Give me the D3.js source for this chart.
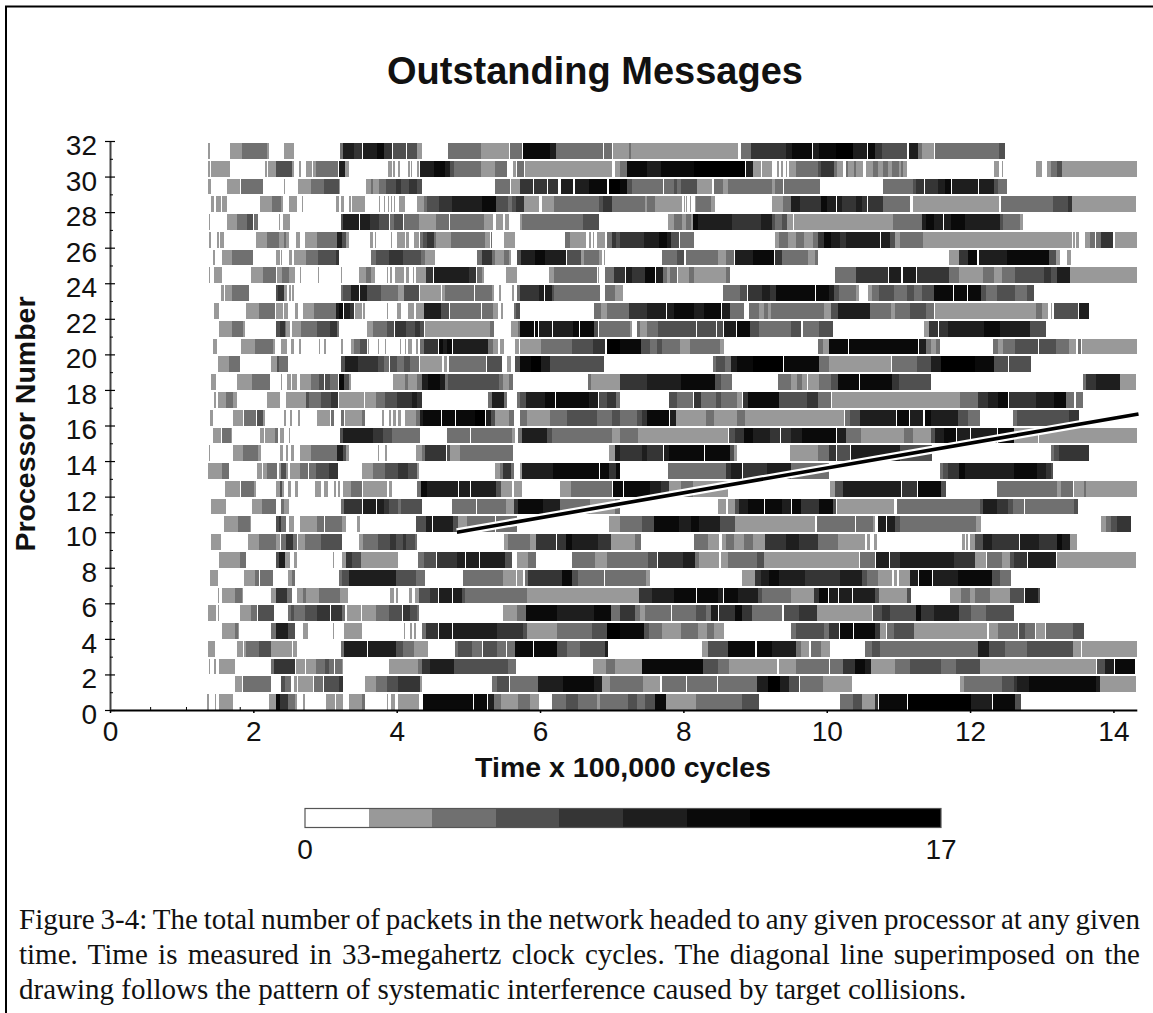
<!DOCTYPE html>
<html><head><meta charset="utf-8">
<script src="https://cdn.jsdelivr.net/npm/d3@7"></script>
<style>
html,body{margin:0;padding:0;background:#fff;overflow:hidden}
svg{display:block}
text{fill:#111}
</style></head><body>
<svg id="chart" width="1153" height="1013"></svg>
<script>
const titleText = "Outstanding Messages";
const xTitle = "Time x 100,000 cycles";
const yTitle = "Processor Number";
const xTicks = [0,2,4,6,8,10,12,14];
const xMinorTicks = [0.56,1.06,1.81];
const yTicks = d3.range(0,33,2);
const yMinorTicks = d3.range(1,33,2);
const samplesPerUnit = 212.2;   // time samples per 100,000 cycles
const lastSample = 3040;
const levelColors = ["#ffffff","#999999","#707070","#505050","#353535","#1e1e1e","#0a0a0a","#000000"];
const legendBins = [0,1,2,3,4,5,6,7,7,7];
const legendRange = [0,17];
const diagonalTime = [4.84,14.35];
const diagonalProc = [10.0,16.65];
const captionLines = [
 "Figure 3-4: The total number of packets in the network headed to any given processor at any given",
 "time. Time is measured in 33-megahertz clock cycles. The diagonal line superimposed on the",
 "drawing follows the pattern of systematic interference caused by target collisions."
];
// Each row: start sample, level, start sample, level, ... (level 0 = none outstanding). First row is processor 31.
const outstanding = [
[291,1,297,0,356,1,392,2,466,1,471,0,516,1,546,0,680,2,689,5,722,4,747,0,750,5,790,6,812,4,835,0,838,3,877,0,880,3,909,1,923,0,1002,2,1099,1,1182,0,1185,2,1220,0,1223,6,1304,5,1320,2,1460,0,1463,2,1487,0,1490,1,1537,2,1543,1,1859,0,1868,2,1898,4,2000,5,2020,6,2078,0,2081,5,2100,6,2150,7,2200,5,2240,0,2244,6,2265,4,2285,3,2360,0,2365,5,2393,2,2405,1,2440,0,2442,2,2633,3,2651,0],
[291,1,297,0,300,1,356,0,460,1,466,0,469,1,492,3,538,1,546,0,560,1,566,0,581,1,597,0,600,1,610,2,676,0,679,5,697,1,708,0,822,1,835,0,838,1,844,0,853,1,859,0,883,1,889,0,892,1,895,0,910,1,915,0,919,5,960,6,992,5,1006,3,1019,2,1099,1,1140,2,1176,0,1193,1,1202,0,1205,2,1225,0,1228,1,1487,0,1496,1,1510,2,1530,6,1590,5,1630,6,1728,7,1880,0,1883,5,1903,1,1927,0,1930,1,1960,0,1974,1,1980,0,1988,1,1994,0,2000,1,2004,0,2009,1,2030,2,2097,3,2106,4,2143,2,2151,1,2170,0,2179,2,2185,1,2203,2,2209,1,2230,0,2238,1,2258,2,2275,1,2288,2,2303,1,2315,2,2335,1,2343,2,2349,1,2359,0,2616,1,2631,0,2640,1,2643,0,2742,1,2755,0,2757,1,2760,0,2773,1,2785,2,2803,3,2818,0,2820,1,3040,0],
[291,1,300,0,347,1,386,0,389,2,453,0,514,1,517,0,557,1,596,2,634,3,677,1,682,0,759,1,772,2,780,1,795,2,818,3,847,4,862,3,884,4,910,3,923,0,1140,2,1183,0,1186,1,1213,4,1253,0,1256,4,1294,0,1297,4,1326,0,1334,5,1372,0,1376,5,1417,6,1472,0,1478,7,1510,6,1530,3,1546,2,1637,0,1640,2,1670,3,1680,2,1690,3,1738,1,1782,0,1788,2,1815,1,1830,2,1960,1,1969,2,1992,0,1995,2,2102,0,2288,2,2378,3,2386,4,2409,0,2412,4,2450,5,2473,6,2489,0,2492,5,2545,0,2547,5,2569,0,2572,5,2617,3,2630,2,2657,0],
[300,1,309,0,315,1,330,0,333,1,347,0,445,1,480,2,507,1,512,0,531,1,554,0,569,1,572,0,668,1,677,0,683,1,692,0,708,1,714,0,717,1,756,0,797,1,800,0,812,1,815,0,824,1,827,0,833,1,836,0,842,1,845,0,857,1,861,0,863,1,874,0,909,1,930,2,939,3,974,4,1013,5,1102,6,1142,3,1177,2,1190,3,1202,4,1227,1,1270,0,1279,1,1314,2,1449,3,1460,4,1487,2,1513,2,1585,1,1590,2,1613,1,1693,0,1698,1,1702,0,1706,1,1709,0,1717,1,1720,0,1732,1,1736,2,1780,1,1791,0,1960,1,1992,2,2016,5,2044,4,2106,6,2122,5,2148,0,2152,5,2167,4,2208,5,2226,4,2240,0,2244,4,2290,2,2370,0,2377,1,2631,0,2637,2,2791,3,2835,4,2847,1,3037,0],
[292,1,296,0,347,1,377,2,406,3,424,0,427,2,439,0,499,1,502,0,513,1,534,0,683,3,690,5,738,0,741,5,769,4,797,3,827,0,830,2,842,3,868,0,871,2,914,1,965,2,1003,0,1006,2,1108,1,1134,0,1143,1,1165,0,1168,1,1182,0,1214,1,1220,2,1400,3,1448,0,1652,1,1670,2,1693,1,1705,2,1720,1,1727,6,1740,5,1843,4,1928,5,1960,3,1970,2,1990,3,2005,1,2021,0,2024,1,2318,2,2405,5,2415,6,2440,5,2467,0,2469,5,2490,6,2532,5,2635,3,2645,2,2695,1,2702,0],
[292,1,298,0,316,1,322,0,325,1,338,0,433,1,466,2,499,1,514,2,522,1,531,0,551,1,563,0,578,1,614,2,672,5,687,3,698,1,708,0,770,1,779,0,784,1,788,0,833,1,836,0,850,1,872,0,877,1,886,0,901,1,914,0,919,2,927,3,938,4,959,2,966,1,1010,2,1110,1,1125,0,1127,2,1132,0,1167,1,1200,0,1348,2,1362,1,1409,0,1418,1,1424,0,1430,1,1434,0,1442,1,1465,0,1472,2,1487,4,1497,3,1510,4,1580,5,1625,6,1650,5,1662,3,1685,0,1688,2,1728,0,1969,1,1980,2,2006,1,2030,2,2055,1,2082,2,2095,4,2115,6,2135,5,2162,4,2180,5,2279,0,2282,5,2310,3,2325,1,2338,2,2406,1,2848,0,2852,1,2856,0,2860,1,2868,0,2886,1,2900,2,2915,0,2918,2,2933,4,2970,0,2974,1,3040,0],
[304,1,312,0,333,1,362,2,424,0,492,1,504,0,507,1,510,0,531,1,540,0,546,1,581,2,617,3,668,4,677,0,773,2,788,3,827,4,867,3,922,2,933,1,963,0,1087,2,1102,4,1132,2,1139,1,1167,2,1182,1,1188,0,1206,3,1217,5,1257,6,1287,5,1350,0,1353,3,1394,1,1402,2,1447,1,1456,0,1463,1,1466,0,1634,2,1680,3,1700,0,1705,2,1800,1,1824,2,1847,0,1850,5,1903,6,1966,0,1970,4,1990,2,2067,1,2088,2,2096,0,2483,1,2514,4,2540,6,2568,0,2572,5,2655,6,2780,3,2800,1,2812,0,2832,1,2844,0],
[292,1,296,0,309,1,333,0,418,1,454,2,492,0,495,1,510,2,531,1,548,0,563,1,566,0,617,1,620,0,683,1,686,0,738,1,759,2,774,1,785,0,819,1,822,0,828,1,834,0,844,1,871,0,877,1,886,0,898,1,901,0,907,1,937,4,957,0,960,5,1062,4,1084,0,1088,2,1102,1,1108,0,1173,1,1205,0,1300,1,1315,2,1442,0,1445,1,1448,0,1466,2,1492,4,1525,0,1528,5,1545,4,1585,6,1613,0,1617,5,1638,2,1650,1,1658,2,1678,0,1681,1,1715,2,1729,1,1825,2,1837,0,2146,2,2210,4,2303,0,2307,5,2343,0,2347,5,2385,0,2389,4,2485,2,2513,1,2585,2,2617,1,2640,2,2680,3,2765,4,2785,3,2805,5,2842,1,3040,0],
[330,1,338,0,341,1,362,2,411,0,490,3,498,4,514,1,524,0,531,1,536,0,540,1,546,0,683,2,690,3,714,5,738,0,741,5,762,3,802,2,854,1,870,3,915,0,918,1,980,0,983,1,992,2,1079,0,1082,2,1132,1,1138,0,1152,1,1159,0,1189,1,1195,0,1206,2,1213,4,1270,5,1286,0,1289,5,1308,3,1314,2,1452,0,1466,2,1495,1,1519,0,1815,2,1865,3,1885,0,1889,4,1930,5,1955,4,1973,6,2088,0,2091,6,2130,5,2143,3,2158,2,2208,1,2217,0,2244,1,2255,2,2278,3,2320,2,2360,3,2380,2,2403,3,2440,6,2495,0,2498,6,2537,0,2540,6,2580,3,2595,2,2625,3,2680,2,2715,3,2737,0],
[309,1,324,0,404,1,442,2,489,0,492,1,513,0,516,1,528,0,548,1,557,0,572,1,605,2,669,5,677,6,690,0,693,5,712,4,722,0,725,1,746,0,750,1,756,0,819,1,822,0,850,1,862,0,883,1,901,0,906,1,930,5,980,3,1003,0,1006,2,1099,0,1102,2,1134,1,1149,0,1158,1,1164,0,1197,2,1203,3,1214,0,1433,2,1454,1,1472,2,1510,2,1537,4,1590,5,1645,0,1649,5,1670,6,1728,5,1760,6,1810,0,1813,5,1837,2,1877,0,1892,2,1920,1,1935,2,1947,1,1957,2,2115,1,2135,3,2155,5,2250,2,2312,1,2325,2,2370,3,2415,2,2439,0,2442,1,2741,2,2760,1,2778,0,2785,1,2788,0,2795,3,2865,0,2868,5,2898,0],
[324,1,362,2,395,1,401,0,491,3,503,4,517,2,522,1,534,0,540,1,566,2,614,3,652,4,672,2,678,0,762,1,779,2,821,3,841,0,844,4,877,3,902,4,917,3,930,0,933,1,1125,2,1138,0,1188,1,1208,2,1215,6,1254,0,1257,6,1267,0,1270,5,1309,0,1312,5,1372,6,1389,0,1392,6,1433,3,1445,0,1447,2,1540,1,1546,0,1560,2,1570,1,1590,2,1622,3,1735,0,1738,3,1795,0,1798,3,1815,0,1818,5,1853,0,1857,6,1895,3,1920,2,2015,3,2047,0,2051,2,2100,3,2140,0,2410,1,2425,4,2450,0,2455,4,2480,5,2588,6,2635,5,2725,3,2770,0],
[306,1,318,0,389,1,429,2,483,1,489,0,507,1,525,0,537,1,546,0,561,1,566,0,618,1,621,0,633,1,639,0,683,1,689,0,714,1,723,2,741,3,762,0,765,1,768,0,794,1,797,0,813,1,818,0,858,1,861,0,872,1,875,0,883,1,895,0,907,1,912,0,917,2,930,4,972,0,974,6,987,5,997,6,1012,0,1015,5,1118,2,1134,1,1149,0,1155,1,1167,0,1199,1,1211,0,1214,1,1275,2,1367,3,1429,4,1465,0,1472,7,1510,6,1572,3,1598,2,1620,3,1635,2,1688,1,1718,2,1806,1,1818,0,2096,2,2110,1,2128,6,2185,0,2188,6,2393,0,2395,5,2415,2,2430,1,2445,2,2457,0,2614,2,2630,1,2645,2,2680,3,2747,0,2750,3,2800,2,2840,1,2859,0,2865,2,2874,0,2877,1,3040,0],
[321,1,353,2,384,0,477,1,495,3,501,2,528,0,683,3,695,5,734,4,792,3,812,2,827,0,830,3,850,2,870,3,887,2,914,0,918,1,983,0,989,1,998,0,1004,2,1112,0,1117,3,1162,0,1174,1,1188,0,1200,3,1214,6,1247,7,1277,5,1302,3,1463,0,1785,2,1793,3,1820,2,1838,5,1855,6,1905,7,1993,0,1995,6,2100,2,2130,1,2312,0,2315,2,2390,3,2430,5,2460,7,2560,6,2617,3,2658,0,2661,3,2726,0],
[300,1,315,0,377,1,421,2,474,0,507,1,510,0,525,1,537,0,540,1,554,0,563,1,596,2,618,3,633,0,637,3,652,2,676,0,679,6,694,3,707,1,713,0,838,1,874,2,883,1,910,2,924,5,942,6,977,5,992,2,1000,3,1152,2,1164,1,1182,2,1192,0,1415,2,1423,1,1510,4,1590,5,1690,6,1790,3,1810,2,1843,0,1977,2,2015,1,2035,2,2048,1,2063,0,2066,1,2100,2,2135,3,2155,6,2217,0,2220,6,2315,4,2335,3,2430,0,2881,2,2891,4,2920,5,2990,1,3037,0],
[309,1,315,0,321,1,344,2,365,1,377,0,466,1,504,0,522,1,581,3,589,2,624,3,653,4,676,0,679,1,753,0,756,1,788,2,815,3,850,4,895,5,910,4,923,0,1119,2,1132,5,1167,2,1176,0,1206,2,1214,3,1232,5,1287,6,1317,0,1321,6,1417,5,1445,0,1448,3,1472,4,1498,2,1510,0,1655,3,1678,2,1725,0,1729,4,1750,2,1795,3,1808,2,1855,1,1870,0,1875,4,1890,6,1980,3,2065,4,2097,2,2134,0,2137,1,2518,2,2570,4,2600,5,2630,6,2658,0,2661,4,2743,5,2795,6,2830,2,2855,0,2859,2,2882,0],
[297,1,306,0,365,1,395,0,398,2,433,0,436,3,454,1,459,0,514,1,522,0,534,1,540,0,557,1,563,0,612,1,650,0,653,2,662,0,683,2,692,0,695,1,747,2,755,0,804,1,812,0,827,1,832,0,837,1,848,0,854,1,862,0,874,1,907,2,919,5,927,6,980,0,983,6,1022,0,1025,6,1082,7,1109,0,1112,5,1127,3,1140,1,1182,2,1195,0,1215,2,1235,1,1302,2,1352,3,1442,2,1487,3,1510,2,1560,3,1575,4,1590,6,1655,0,1658,5,1675,1,1765,2,1787,1,1857,2,1880,1,2173,0,2177,2,2190,3,2220,5,2327,0,2330,6,2367,0,2370,5,2408,0,2412,6,2432,5,2512,3,2540,2,2575,0,2673,2,2685,3,2838,4,2868,0],
[306,1,330,0,333,2,357,1,360,0,445,1,457,0,460,1,489,2,498,0,502,1,516,0,531,1,534,0,680,3,690,5,778,4,807,3,835,2,918,0,997,2,1067,0,1070,2,1189,1,1199,0,1209,2,1220,5,1295,3,1308,2,1487,1,1510,2,1562,1,1830,0,1833,3,1850,4,1878,6,1905,5,1955,4,1983,0,1986,4,2015,5,2050,6,2150,0,2153,5,2178,2,2223,1,2350,2,2377,1,2430,3,2442,5,2470,6,2505,0,2508,5,2545,0,2548,5,2625,0,2628,6,2675,1,2748,0,2750,1,3040,0],
[292,1,296,0,365,1,395,2,437,1,448,0,502,1,513,0,522,1,526,0,537,1,546,0,563,1,596,2,672,5,690,3,699,1,708,0,794,1,797,0,815,1,821,0,907,1,924,2,933,4,995,0,998,3,1007,1,1037,2,1192,0,1477,1,1495,5,1510,4,1575,5,1590,4,1638,0,1640,5,1655,6,1760,0,1762,6,1835,3,1847,1,1856,0,2013,1,2095,2,2130,4,2150,0,2152,3,2190,0,2193,5,2340,3,2433,0,2786,2,2795,3,2810,4,2898,0],
[291,1,333,2,351,0,436,1,451,0,454,1,466,2,494,0,500,1,507,3,520,1,528,0,533,1,563,2,587,0,590,2,611,3,647,4,675,0,747,1,779,2,815,3,852,4,882,3,910,1,915,0,1141,1,1154,2,1164,4,1187,2,1195,0,1215,1,1221,5,1312,6,1447,0,1450,6,1477,4,1497,6,1510,0,1653,2,1825,4,1840,5,1871,0,1874,4,1945,5,2015,2,2130,0,2457,2,2467,3,2480,4,2515,6,2530,5,2675,6,2745,5,2770,4,2785,3,2793,0],
[341,1,386,0,389,2,427,1,432,0,490,1,502,3,508,1,514,0,526,1,536,0,548,1,557,0,608,1,624,0,633,1,645,0,662,1,668,0,675,1,681,0,689,1,714,2,747,0,749,1,821,0,827,1,835,0,910,2,922,6,939,5,1029,0,1032,5,1067,0,1070,5,1142,3,1157,1,1190,0,1196,1,1220,0,1332,1,1365,2,1487,0,1490,6,1519,0,1522,6,1600,5,1630,4,1655,1,1690,2,1725,1,1830,0,2131,1,2145,3,2170,5,2343,0,2346,4,2388,0,2391,6,2460,3,2475,0,2626,2,2803,1,2815,2,2850,0,2855,1,2885,2,2890,1,3040,0],
[300,1,344,0,421,1,451,2,492,0,507,2,514,1,531,0,683,2,692,4,747,0,750,5,788,0,791,5,812,4,827,3,852,2,862,3,924,0,1014,2,1084,0,1087,2,1171,1,1197,4,1207,6,1282,5,1332,2,1422,1,1495,2,1510,0,1800,1,1824,0,1830,1,1850,3,1863,5,1890,6,1937,0,1940,6,1990,5,2017,0,2020,6,2045,4,2100,6,2140,3,2148,0,2151,1,2322,0,2330,2,2575,3,2585,5,2625,4,2658,3,2673,2,2705,0,2708,2,2855,3,2865,0],
[338,1,380,2,415,1,418,0,490,3,500,4,507,2,522,0,531,1,546,0,563,1,614,2,634,0,637,2,687,1,699,0,732,1,741,0,905,3,935,5,954,0,957,5,1015,3,1029,1,1057,2,1141,0,1143,2,1205,0,1477,1,1510,2,1575,3,1610,6,1685,5,1720,6,1745,5,1805,3,1850,1,2088,0,2094,2,2205,0,2210,2,2260,1,2265,0,2273,5,2297,0,2300,5,2325,3,2338,2,2565,1,2580,0,2933,1,2950,2,2965,3,2980,4,3022,0],
[300,1,330,0,409,1,442,2,490,0,492,1,504,0,507,2,522,4,542,2,553,0,557,1,578,2,626,3,687,0,738,1,750,2,792,3,830,4,847,3,867,4,877,3,902,2,908,0,1167,1,1179,2,1242,1,1262,4,1319,0,1322,4,1350,6,1367,5,1445,4,1482,1,1555,2,1572,0,1729,2,1770,1,1803,0,1812,1,1825,2,1847,1,1877,2,1905,1,1940,4,2000,5,2040,4,2095,2,2155,1,2235,0,2241,1,2251,0,2262,1,2272,0,2522,1,2530,0,2535,1,2540,0,2545,1,2560,3,2585,5,2610,4,2690,0,2693,5,2750,4,2805,6,2820,5,2842,1,2862,0],
[324,1,384,2,403,0,490,3,500,5,517,1,532,0,546,1,554,0,659,1,662,0,686,1,698,4,717,3,744,1,853,0,912,2,930,3,966,0,969,4,1027,5,1050,0,1053,5,1092,0,1095,5,1168,3,1189,0,1204,1,1238,2,1262,0,1367,2,1437,1,1472,2,1593,3,1620,0,1622,4,1696,5,1732,2,1745,1,1803,0,1808,1,1830,2,1915,3,1935,1,2218,0,2221,2,2265,0,2267,5,2305,0,2309,4,2340,5,2500,4,2560,0,2562,1,2593,0,2597,2,2640,1,2665,3,2675,4,2715,0,2717,5,2800,0,2805,1,3037,0],
[297,1,321,0,398,1,430,2,442,0,445,2,484,0,526,1,538,2,548,0,677,2,687,3,707,5,847,3,907,2,932,0,1044,2,1164,1,1201,0,1205,1,1223,0,1229,2,1238,4,1338,6,1367,3,1385,2,1462,0,1465,2,1588,1,1598,0,1871,1,1910,4,1928,5,1950,6,1980,5,2057,0,2059,4,2160,5,2225,3,2240,2,2275,1,2315,0,2321,1,2330,0,2335,1,2370,5,2392,0,2395,6,2433,0,2436,5,2510,6,2610,3,2635,2,2667,0],
[321,1,324,0,333,1,371,2,390,1,394,0,477,1,490,4,524,2,539,0,554,1,572,2,581,1,620,2,682,1,705,0,830,1,841,0,847,1,853,0,886,1,895,0,904,1,914,3,947,4,972,0,975,5,1013,0,1016,5,1042,3,1050,2,1235,1,1567,4,1605,5,1670,6,1735,0,1738,6,1800,5,1815,0,1818,6,1859,5,1918,3,1930,2,2015,1,2085,4,2100,6,2125,0,2128,5,2155,0,2158,5,2196,0,2199,5,2265,3,2278,1,2360,3,2372,0,2486,1,2520,2,2545,1,2560,2,2605,1,2665,3,2705,0,2708,5,2748,3,2752,0],
[291,1,315,0,321,1,324,0,386,1,418,2,436,0,439,3,486,0,526,2,535,3,545,2,578,3,612,0,614,4,652,0,655,4,687,2,695,0,701,1,744,0,747,1,788,2,827,3,865,0,867,4,887,3,910,2,915,0,1164,1,1205,2,1232,6,1322,5,1432,6,1482,2,1510,4,1555,2,1570,1,1585,2,1660,0,1665,2,1735,3,1765,2,1780,5,1801,0,1804,4,1850,6,1870,4,1900,2,1990,0,1995,3,2040,4,2092,1,2255,0,2260,3,2285,4,2310,3,2385,6,2400,4,2440,5,2515,3,2550,2,2595,3,2675,0],
[333,1,371,2,379,1,383,0,476,2,490,5,527,3,547,0,572,1,587,0,659,1,662,0,693,1,747,0,869,1,872,0,889,1,895,0,901,1,907,0,925,2,937,4,972,0,975,5,1012,0,1015,5,1147,4,1222,3,1235,1,1324,2,1427,3,1470,7,1510,6,1580,3,1595,2,1635,1,1690,2,1740,1,1768,2,1788,1,1818,0,2016,2,2030,3,2115,2,2130,4,2158,0,2161,6,2200,0,2202,6,2265,4,2280,1,2297,0,2300,2,2320,3,2380,1,2596,0,2602,1,2630,2,2688,0,2690,3,2710,2,2738,0,2742,1,2767,0,2770,2,2850,3,2885,0],
[291,1,312,0,377,1,395,0,398,1,404,2,442,3,476,1,538,0,541,1,554,0,683,2,692,5,762,0,765,5,847,3,867,2,900,1,942,0,1020,2,1030,3,1072,2,1102,0,1105,3,1147,2,1172,0,1175,2,1199,6,1252,0,1255,6,1322,3,1352,2,1392,3,1467,5,1475,0,1753,1,1770,3,1830,6,1910,0,1915,6,1960,5,2030,2,2045,1,2070,0,2075,2,2105,1,2133,0,2235,2,2255,3,2280,2,2570,5,2603,3,2650,2,2715,3,2850,1,2874,0,2877,1,3040,0],
[292,1,297,0,309,1,315,0,324,1,371,0,477,2,487,4,547,0,551,1,578,0,581,1,611,2,638,3,647,2,662,0,665,2,687,1,690,0,827,1,912,2,923,4,947,5,1017,3,1177,2,1202,0,1430,1,1469,2,1495,1,1575,6,1755,3,1800,2,1833,1,1975,0,1980,1,2030,2,2128,0,2131,2,2170,4,2205,6,2235,5,2252,1,2325,2,2370,3,2460,2,2505,3,2575,0,2577,1,2918,0,2921,3,2947,5,2972,0,2974,6,3034,0],
[371,1,392,0,395,2,476,0,507,3,519,2,537,0,546,1,554,0,557,1,602,0,605,2,632,0,634,3,677,4,690,0,756,1,788,2,821,3,852,4,917,1,923,0,1132,2,1146,3,1182,0,1185,2,1267,5,1342,6,1432,5,1457,1,1480,2,1578,1,1628,0,1635,2,1705,0,1707,2,1797,0,1800,2,1915,5,1948,7,1985,5,2010,3,2040,0,2043,2,2110,1,2198,0,2516,1,2528,2,2640,3,2675,4,2685,5,2720,6,2920,5,2930,1,3037,0],
[286,1,292,0,312,1,315,0,324,1,365,0,472,1,490,6,502,4,527,2,547,1,554,0,572,1,578,0,640,1,666,0,669,1,690,0,708,1,747,2,756,0,819,1,822,0,833,1,844,0,852,1,915,0,928,6,1075,0,1078,6,1117,0,1120,5,1137,2,1157,1,1208,2,1242,1,1269,0,1310,2,1350,3,1387,2,1442,1,1450,2,1535,3,1560,2,1585,3,1615,6,1645,1,1735,2,1870,3,1920,0,2162,2,2200,3,2225,1,2265,4,2275,0,2278,6,2360,0,2363,7,2550,5,2610,0,2613,6,2680,3,2698,0]
];

const svg = d3.select("#chart");
const x = d3.scaleLinear().domain([0,lastSample/samplesPerUnit]).range([110,1136.8]);
const y = d3.scaleLinear().domain([0,32]).range([710,141]);
const color = d3.scaleOrdinal().domain(d3.range(levelColors.length)).range(levelColors);

// page frame
const page = svg.append("g");
page.append("path").attr("d",d3.line()([[6,1013],[6,6.5],[1153,6.5]]))
  .attr("fill","none").attr("stroke","#000").attr("stroke-width",2);

// title
const boldSans = "'Liberation Sans',Arial,sans-serif";
svg.append("text").attr("x",595).attr("y",84).attr("text-anchor","middle")
  .style("font",`bold 38px ${boldSans}`).text(titleText);

// cells
const cells = [];
outstanding.forEach((row,k)=>{
  const proc = outstanding.length-1-k;
  for(let i=0;i<row.length-2;i+=2){
    if(row[i+1]>0 && row[i+2]>row[i]) cells.push({proc,from:row[i]/samplesPerUnit,to:row[i+2]/samplesPerUnit,level:row[i+1]});
  }
});
const bandGap = 2;
svg.append("g").attr("shape-rendering","crispEdges").selectAll("rect").data(cells).join("rect")
  .attr("x",d=>x(d.from)).attr("width",d=>x(d.to)-x(d.from))
  .attr("y",d=>y(d.proc+1)+bandGap).attr("height",d=>y(d.proc)-y(d.proc+1)-bandGap)
  .attr("fill",d=>color(d.level));

// diagonal
const diag = d3.line().x(d=>x(d[0])).y(d=>y(d[1]));
const diagPts = d3.zip(diagonalTime,diagonalProc);
svg.append("path").attr("d",diag(diagPts)).attr("fill","none").attr("stroke","#fff").attr("stroke-width",8);
svg.append("path").attr("d",diag(diagPts)).attr("fill","none").attr("stroke","#000").attr("stroke-width",3.6);

// axes
const tickFont = `28px ${boldSans}`;
const gx = svg.append("g").attr("transform",`translate(0,${y(0)})`)
  .call(d3.axisBottom(x).tickValues(xTicks).tickFormat(d3.format("d")).tickSize(3).tickPadding(8).tickSizeOuter(0));
gx.select(".domain").attr("stroke","#000").attr("stroke-width",2);
gx.selectAll("line").attr("stroke","#000").attr("stroke-width",1.5);
gx.selectAll("text").style("font",tickFont).attr("fill","#111");
const gxm = svg.append("g").attr("transform",`translate(0,${y(0)})`)
  .call(d3.axisTop(x).tickValues(xMinorTicks).tickFormat("").tickSize(3).tickSizeOuter(0));
gxm.select(".domain").remove();
gxm.selectAll("line").attr("stroke","#000");

const gy = svg.append("g").attr("transform",`translate(${x(0)},0)`)
  .call(d3.axisLeft(y).tickValues(yTicks).tickFormat(d3.format("d")).tickSize(4).tickPadding(9).tickSizeOuter(0));
gy.select(".domain").attr("stroke","#444").attr("stroke-width",2);
gy.selectAll(".tick line").attr("x1",5).attr("x2",-5).attr("stroke","#000").attr("stroke-width",1.2);
gy.selectAll("text").style("font",tickFont).attr("fill","#111").attr("dy","0.48em");
const gym = svg.append("g").attr("transform",`translate(${x(0)},0)`)
  .call(d3.axisRight(y).tickValues(yMinorTicks).tickFormat("").tickSize(3).tickSizeOuter(0));
gym.select(".domain").remove();
gym.selectAll("line").attr("stroke","#000");

// axis titles
const axisTitleFont = `bold 28.5px ${boldSans}`;
svg.append("text").attr("x",623).attr("y",777).attr("text-anchor","middle")
  .style("font",axisTitleFont).text(xTitle);
svg.append("text").attr("transform","translate(35,424) rotate(-90)").attr("text-anchor","middle")
  .style("font",axisTitleFont).text(yTitle);

// legend
const lx = d3.scaleLinear().domain(legendRange).range([305,941]);
const binW = (legendRange[1]-legendRange[0])/legendBins.length;
svg.append("g").attr("shape-rendering","crispEdges").selectAll("rect").data(legendBins).join("rect")
  .attr("x",(d,i)=>lx(i*binW)).attr("width",(d,i)=>lx((i+1)*binW)-lx(i*binW))
  .attr("y",809).attr("height",18).attr("fill",d=>color(d));
svg.append("rect").attr("x",lx(0)).attr("y",808.5).attr("width",lx(17)-lx(0)).attr("height",19)
  .attr("fill","none").attr("stroke","#555").attr("stroke-width",1.2);
svg.selectAll("text.leg").data(legendRange).join("text").attr("class","leg")
  .attr("x",d=>lx(d)).attr("y",859).attr("text-anchor","middle").style("font",tickFont).text(d=>d);

// caption
const serif = "'Liberation Serif','Times New Roman',serif";
const capX0 = 19, capX1 = 1140, capBase = [929,964,999];
captionLines.forEach((t,i)=>{
  const el = svg.append("text").attr("x",capX0).attr("y",capBase[i]).style("font",`29px ${serif}`).text(t);
  if(i<2){
    const w = el.node().getComputedTextLength();
    const gaps = t.split(" ").length-1;
    el.style("word-spacing",((capX1-capX0-w)/gaps)+"px");
  }
});
</script>
</body></html>
